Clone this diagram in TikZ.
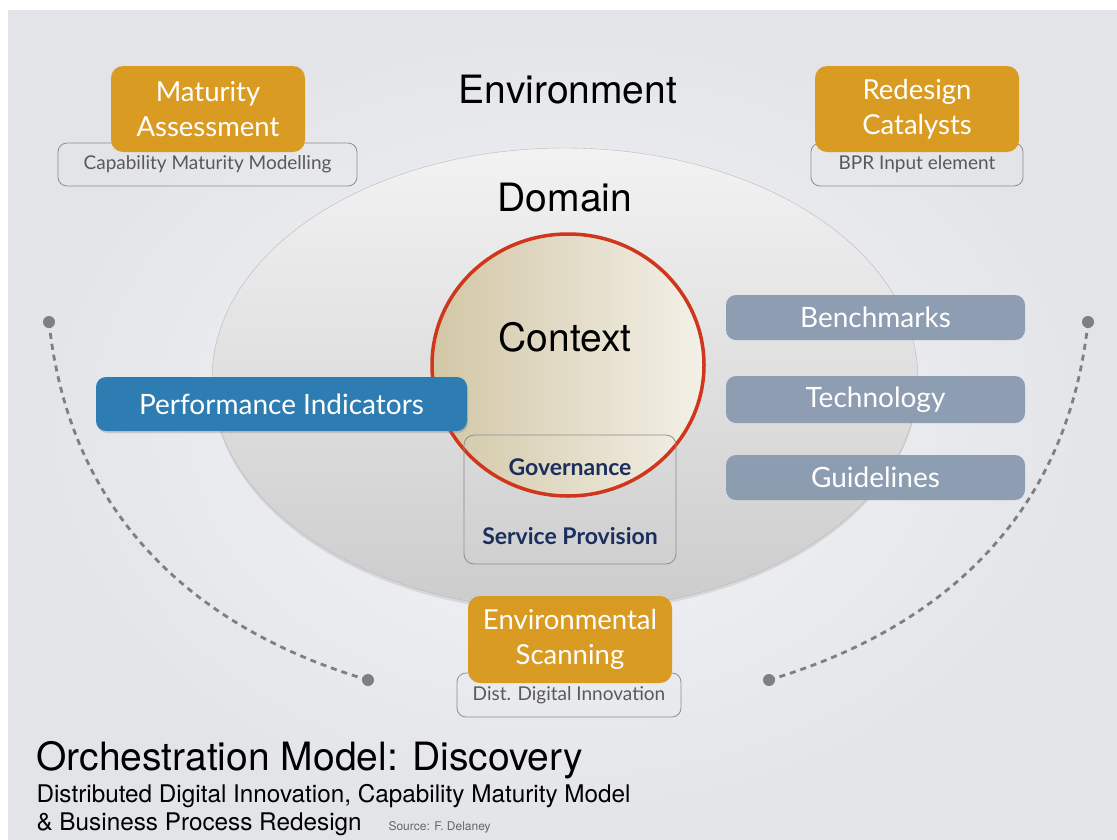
\documentclass[tikz,border=0pt]{standalone}
\usepackage{fontspec}
\setmainfont{Lato}
\newfontfamily\helv{TeX Gyre Heros}
\usetikzlibrary{shapes.geometric,shadows,positioning}
\definecolor{ochre}{HTML}{D9991C}
\definecolor{steel}{HTML}{2E7DB2}
\definecolor{slate}{HTML}{8A9AAF}
\definecolor{navy}{HTML}{1B2F5E}
\definecolor{ctxred}{HTML}{CF361C}
\definecolor{dotgrey}{HTML}{7B8080}
\definecolor{tagline}{HTML}{8C8E92}
\definecolor{slidein}{HTML}{F4F5F7}
\definecolor{slideout}{HTML}{E2E4E8}
\definecolor{tanleft}{HTML}{D2C7A6}
\definecolor{tanmid}{HTML}{BFB18B}
\definecolor{tanright}{HTML}{F3F0E7}

\begin{document}
\begin{tikzpicture}[x=1pt, y=-1pt,
    orangebox/.style={rectangle, rounded corners=12pt, fill=ochre, opacity=0.97, text=white, text opacity=1, align=center, inner sep=0pt, font=\fontsize{27.5}{35}\selectfont},
    tagbox/.style={rectangle, rounded corners=9pt, draw=tagline, line width=0.8pt, text=black!65, inner sep=0pt, font=\fontsize{19}{22}\selectfont},
    bluebox/.style={rectangle, rounded corners=10pt, fill=steel, text=white, inner sep=0pt, font=\fontsize{28}{30}\selectfont, drop shadow={opacity=0.3, shadow xshift=1pt, shadow yshift=-2pt}},
    slatebox/.style={rectangle, rounded corners=10pt, fill=slate, fill opacity=0.95, text=white, text opacity=1, inner sep=0pt, minimum width=299pt, font=\fontsize{28}{30}\selectfont},
    bigword/.style={font=\helv\fontsize{39}{42}\selectfont, text=black},
    navyword/.style={font=\bfseries\fontsize{23}{26}\selectfont, text=navy},
    scan/.style={dotgrey, line width=2.8pt, dash pattern=on 6pt off 5pt},
    scandot/.style={fill=dotgrey}
]
    \useasboundingbox (0,0) rectangle (1117,839);
    \fill[white] (0,0) rectangle (1117,839);
    \shade[inner color=slidein, outer color=slideout] (8,10) rectangle (1117,839);

    % domain and context
    \node[ellipse, minimum width=706pt, minimum height=462pt, draw=gray!55, top color=gray!10, bottom color=gray!40, drop shadow={opacity=0.2, shadow xshift=0pt, shadow yshift=-3pt}] (domain) at (565,379) {};
    \node[ellipse, minimum width=272pt, minimum height=262pt, draw=ctxred, line width=3.5pt, left color=tanleft, middle color=tanmid, right color=tanright] (context) at (568,365) {};

    \node[bigword] (env) at (568,90) {Environment};
    \node[bigword] (dom) at (565,198) {Domain};
    \node[bigword] (ctx) at (565,337) {Context};

    \node[rectangle, rounded corners=10pt, draw=tagline, line width=0.8pt, minimum width=212pt, minimum height=129pt] (govbox) at (570,499.5) {};
    \node[navyword] (gov) at (570,467) {Governance};
    \node[navyword] (service) at (570,536) {Service Provision};

    % tags and inputs
    \node[tagbox, minimum width=299pt, minimum height=43pt] (cmm) at (207.5,164.5) {Capability Maturity Modelling};
    \node[tagbox, minimum width=212pt, minimum height=43pt] (bpr) at (917,164.5) {BPR Input element};
    \node[tagbox, minimum width=224pt, minimum height=44pt] (ddi) at (569,695) {Dist. Digital Innovation};

    \node[orangebox, minimum width=194pt, minimum height=86pt] (maturity) at (208,109) {Maturity\\Assessment};
    \node[orangebox, minimum width=204pt, minimum height=86pt] (redesign) at (917,109) {Redesign\\Catalysts};
    \node[orangebox, minimum width=204pt, minimum height=87pt] (scanning) at (570,639.5) {Environmental\\Scanning};

    \node[bluebox, minimum width=371pt, minimum height=54pt] (perf) at (281.5,404) {Performance Indicators};

    \node[slatebox, minimum height=45pt] (bench) at (875.5,317.5) {Benchmarks};
    \node[slatebox, minimum height=47pt] (tech) at (875.5,399.5) {Technology};
    \node[slatebox, minimum height=45pt] (guide) at (875.5,477.5) {Guidelines};

    % discovery arcs
    \coordinate (lefttop) at (49,322);
    \coordinate (leftend) at (368,680);
    \coordinate (righttop) at (1088,322);
    \coordinate (rightend) at (769,680);
    \draw[scan] (lefttop) .. controls (70,520) and (200,630) .. (leftend);
    \draw[scan] (righttop) .. controls (1067,520) and (937,630) .. (rightend);
    \foreach \p in {lefttop,leftend,righttop,rightend}
        \fill[scandot] (\p) circle (6);

    % caption
    \node[anchor=base west, font=\helv\fontsize{39}{42}\selectfont] (title) at (33,770) {Orchestration Model: Discovery};
    \node[anchor=base west, font=\helv\fontsize{24.3}{28}\selectfont] (subtitle) at (33,802) {Distributed Digital Innovation, Capability Maturity Model};
    \node[anchor=base west, font=\helv\fontsize{24.3}{28}\selectfont] (subtitle2) at (33,830) {\& Business Process Redesign};
    \node[anchor=base west, text=black!60, font=\helv\fontsize{12}{14}\selectfont] (source) at (385,830) {Source: F. Delaney};
\end{tikzpicture}
\end{document}
